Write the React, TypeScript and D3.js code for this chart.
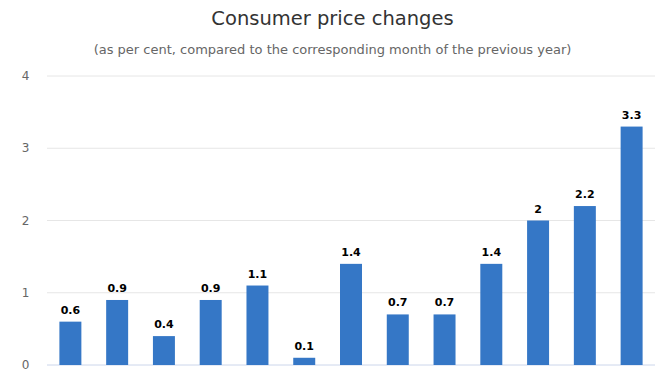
import React from "react";
import * as d3 from "d3";

const categories = ["1", "2", "3", "4", "5", "6", "7", "8", "9", "10", "11", "12", "13"];
const values = [0.6, 0.9, 0.4, 0.9, 1.1, 0.1, 1.4, 0.7, 0.7, 1.4, 2, 2.2, 3.3];
const yTicks = [0, 1, 2, 3, 4];
const title = "Consumer price changes";
const subtitle = "(as per cent, compared to the corresponding month of the previous year)";

const W = 665;
const H = 375;
const font = "'DejaVu Sans', Verdana, sans-serif";

export default function App() {
  const x = d3.scaleBand<string>().domain(categories).range([47, 655]).paddingInner(0.53).paddingOuter(0.265);
  const y = d3.scaleLinear().domain([0, 4]).range([365, 76]);
  return (
    <svg width={W} height={H} style={{ position: "absolute", left: 0, top: 0, fontFamily: font }}>
      <rect width={W} height={H} fill="#fff" />
      <text x={W / 2} y={25} textAnchor="middle" fontSize={19.5} fill="#333">{title}</text>
      <text x={W / 2} y={54} textAnchor="middle" fontSize={13} fill="#666">{subtitle}</text>
      {yTicks.map((t) => (
        <g key={t}>
          <line x1={47} x2={655} y1={y(t)} y2={y(t)} stroke={t === 0 ? "#ccd6eb" : "#e6e6e6"} strokeWidth={1} />
          <text x={29.5} y={y(t) + 4} textAnchor="end" fontSize={12} fill="#666">{t}</text>
        </g>
      ))}
      {values.map((v, i) => {
        const bx = x(categories[i])!;
        const bw = x.bandwidth();
        return (
          <g key={i}>
            <rect x={bx} y={y(v)} width={bw} height={y(0) - y(v)} fill="#3577c6" />
            <text x={bx + bw / 2} y={y(v) - 8} textAnchor="middle" fontSize={11} fontWeight="bold" fill="#000">{v}</text>
          </g>
        );
      })}
    </svg>
  );
}
